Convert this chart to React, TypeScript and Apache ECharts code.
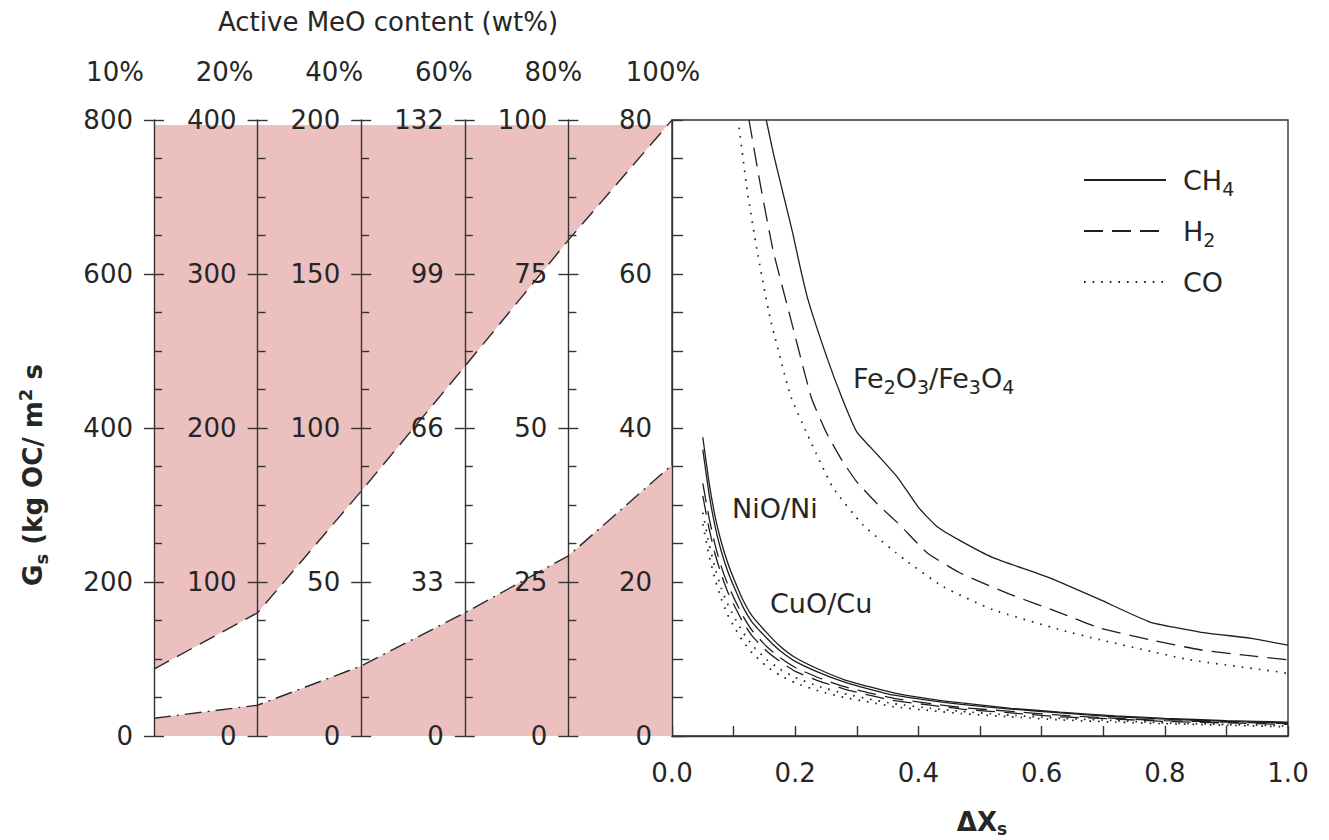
import React, { useEffect, useRef } from 'react';
import * as echarts from 'echarts';

// ---------------- DATA ----------------
const contentLabels = ['10%', '20%', '40%', '60%', '80%', '100%'];
// G_s scale maximum on each nomograph axis (kg OC / m2 s)
const nomoAxisMax = [800, 400, 200, 132, 100, 80];
// boundary lines, expressed on the 10% scale (0-800), one value per nomograph axis
const upperBoundary = [87, 160, 318, 480, 644, 800];
const lowerBoundary = [23, 40, 91, 160, 234, 352];

const xTicks = [0, 0.2, 0.4, 0.6, 0.8, 1.0];

// Fe2O3/Fe3O4 curves [dXs, Gs]
const feCH4 = [[0.153, 80], [0.165, 75.5], [0.183, 69.6], [0.196, 65.3], [0.208, 60.9], [0.221, 56.6], [0.25, 49.5], [0.276, 43.9], [0.3, 39.5], [0.335, 36.4], [0.367, 33.5], [0.4, 29.7], [0.43, 27.2], [0.467, 25.4], [0.52, 23.2], [0.614, 20.5], [0.695, 17.7], [0.776, 14.8], [0.857, 13.5], [0.938, 12.7], [1.0, 11.8]];
const feH2 = [[0.125, 80], [0.143, 71.8], [0.164, 63.1], [0.192, 54.4], [0.226, 44], [0.25, 39.5], [0.276, 35.8], [0.3, 33], [0.335, 30], [0.37, 27.4], [0.414, 23.8], [0.467, 21.2], [0.549, 18.4], [0.63, 16], [0.695, 14], [0.776, 12.5], [0.857, 11.2], [0.93, 10.5], [1.0, 9.9]];
const feCO = [[0.109, 79], [0.122, 70.9], [0.138, 63.1], [0.159, 54.4], [0.192, 44.3], [0.219, 39.3], [0.261, 32.3], [0.31, 27.4], [0.378, 22.9], [0.44, 19.4], [0.521, 16.4], [0.63, 13.8], [0.695, 12.5], [0.84, 9.9], [0.987, 8.3], [1.0, 8.1]];
// NiO/Ni and CuO/Cu curves
const niCH4 = [[0.05, 38.8], [0.06, 33], [0.07, 28.5], [0.08, 25.2], [0.09, 22.6], [0.1, 20.5], [0.115, 17.7], [0.13, 15.6], [0.154, 13.4], [0.175, 11.7], [0.2, 10.2], [0.24, 8.6], [0.28, 7.3], [0.32, 6.4], [0.36, 5.6], [0.42, 4.8], [0.47, 4.3], [0.55, 3.6], [0.63, 3.1], [0.72, 2.6], [0.8, 2.3], [0.9, 2.0], [1.0, 1.8]];
const cuCH4 = [[0.05, 37.2], [0.06, 31.5], [0.07, 27.2], [0.08, 24], [0.09, 21.5], [0.1, 19.5], [0.115, 16.8], [0.13, 14.8], [0.154, 12.7], [0.175, 11.1], [0.2, 9.7], [0.24, 8.2], [0.28, 7.0], [0.32, 6.1], [0.36, 5.3], [0.42, 4.6], [0.47, 4.1], [0.55, 3.5], [0.63, 3.0], [0.72, 2.5], [0.8, 2.2], [0.9, 1.9], [1.0, 1.7]];
const niH2 = [[0.05, 32.8], [0.06, 28.4], [0.07, 24.8], [0.08, 22], [0.09, 19.8], [0.1, 18], [0.115, 15.6], [0.13, 13.7], [0.154, 11.6], [0.175, 10.2], [0.2, 8.9], [0.24, 7.5], [0.28, 6.4], [0.32, 5.6], [0.36, 4.9], [0.42, 4.2], [0.47, 3.7], [0.55, 3.2], [0.63, 2.7], [0.72, 2.3], [0.8, 2.0], [0.9, 1.8], [1.0, 1.6]];
const cuH2 = [[0.05, 31.2], [0.06, 27], [0.07, 23.6], [0.08, 21], [0.09, 18.8], [0.1, 17.1], [0.115, 14.8], [0.13, 13], [0.154, 11], [0.175, 9.7], [0.2, 8.4], [0.24, 7.1], [0.28, 6.1], [0.32, 5.3], [0.36, 4.6], [0.42, 4.0], [0.47, 3.5], [0.55, 3.0], [0.63, 2.5], [0.72, 2.2], [0.8, 1.9], [0.9, 1.7], [1.0, 1.5]];
const niCO = [[0.05, 29], [0.06, 25], [0.07, 21.8], [0.08, 19.2], [0.09, 17.2], [0.1, 15.6], [0.115, 13.5], [0.13, 11.8], [0.154, 9.9], [0.175, 8.7], [0.2, 7.6], [0.24, 6.4], [0.28, 5.5], [0.32, 4.8], [0.36, 4.2], [0.42, 3.6], [0.47, 3.2], [0.55, 2.7], [0.63, 2.3], [0.72, 2.0], [0.8, 1.7], [0.9, 1.5], [1.0, 1.3]];
const cuCO = [[0.05, 27.5], [0.06, 23.5], [0.07, 20.3], [0.08, 17.8], [0.09, 15.8], [0.1, 14.3], [0.115, 12.3], [0.13, 10.8], [0.154, 9.0], [0.175, 7.9], [0.2, 6.9], [0.24, 5.8], [0.28, 5.0], [0.32, 4.4], [0.36, 3.8], [0.42, 3.3], [0.47, 2.9], [0.55, 2.5], [0.63, 2.1], [0.72, 1.8], [0.8, 1.6], [0.9, 1.4], [1.0, 1.2]];

// ---------------- LAYOUT / STYLE ----------------
const W = 1329;
const H = 840;
const LEFT_X = 154;
const PLOT_X0 = 672;
const PLOT_X1 = 1288;
const TOP = 120;
const BOTTOM = 736;
const PINK_TOP_Y = 125;
const COL_W = (PLOT_X0 - LEFT_X) / 5;
const FONT = '"DejaVu Sans", Verdana, sans-serif';
const TXT = '#262626';
const AX = '#333333';
const PINK = '#edc0c0';
const FS = 26;
const FS_NOTE = 27;

const SOLID = 'solid';
const DASH = [19, 9];
const DOT = [1.6, 7];

export default function App() {
  const ref = useRef<HTMLDivElement>(null);

  useEffect(() => {
    if (!ref.current) return;
    const chart = echarts.init(ref.current, undefined, { renderer: 'svg' });

    const leftMax = nomoAxisMax[0] * (BOTTOM - PINK_TOP_Y) / (BOTTOM - TOP);

    const grids: any[] = [
      { left: LEFT_X, top: PINK_TOP_Y, width: PLOT_X0 - LEFT_X, height: BOTTOM - PINK_TOP_Y },
    ];
    const xAxes: any[] = [
      { gridIndex: 0, type: 'value', min: 0, max: 5, show: false },
    ];
    const yAxes: any[] = [
      { gridIndex: 0, type: 'value', min: 0, max: leftMax, show: false },
    ];

    for (let i = 0; i < 5; i++) {
      const gi = grids.length;
      grids.push({ left: LEFT_X + i * COL_W, top: TOP, width: 30, height: BOTTOM - TOP });
      xAxes.push({ gridIndex: gi, type: 'value', min: 0, max: 1, show: false });
      const m = nomoAxisMax[i];
      yAxes.push({
        gridIndex: gi, type: 'value', position: 'left', min: 0, max: m, interval: m / 4, z: 10,
        axisLine: { show: true, lineStyle: { color: AX, width: 1.4 } },
        axisTick: { show: true, inside: true, length: 10, lineStyle: { color: AX, width: 1.4 } },
        minorTick: { show: true, splitNumber: 4, length: 8, lineStyle: { color: AX, width: 1.4 } },
        axisLabel: { show: true, margin: 21, fontSize: FS, fontFamily: FONT, color: TXT },
        splitLine: { show: false },
        minorSplitLine: { show: false },
      });
      yAxes.push({
        gridIndex: gi, type: 'value', position: 'left', min: 0, max: m, interval: m / 4, z: 10,
        axisLine: { show: false },
        axisTick: { show: true, inside: false, length: 10, lineStyle: { color: AX, width: 1.4 } },
        axisLabel: { show: false },
        splitLine: { show: false },
      });
    }

    const rg = grids.length;
    grids.push({
      left: PLOT_X0, top: TOP, width: PLOT_X1 - PLOT_X0, height: BOTTOM - TOP,
      show: true, borderColor: AX, borderWidth: 1.4, backgroundColor: 'transparent',
    });
    const rx = xAxes.length;
    xAxes.push({
      gridIndex: rg, type: 'value', min: xTicks[0], max: xTicks[xTicks.length - 1], interval: 0.2,
      axisLine: { show: true, onZero: false, lineStyle: { color: AX, width: 1.4 } },
      axisTick: { show: true, inside: true, length: 10, lineStyle: { color: AX, width: 1.4 } },
      minorTick: { show: true, splitNumber: 2, length: 10, lineStyle: { color: AX, width: 1.4 } },
      axisLabel: { margin: 24, fontSize: FS, fontFamily: FONT, color: TXT, formatter: (v: number) => v.toFixed(1) },
      splitLine: { show: false },
    });
    const ry = yAxes.length;
    yAxes.push({
      gridIndex: rg, type: 'value', min: 0, max: nomoAxisMax[5], interval: nomoAxisMax[5] / 4, z: 10,
      axisLine: { show: true, onZero: false, lineStyle: { color: AX, width: 1.4 } },
      axisTick: { show: true, inside: true, length: 11, lineStyle: { color: AX, width: 1.4 } },
      minorTick: { show: true, splitNumber: 4, length: 11, lineStyle: { color: AX, width: 1.4 } },
      axisLabel: { margin: 20, fontSize: FS, fontFamily: FONT, color: TXT },
      splitLine: { show: false },
    });

    const curve = (name: string, data: number[][], type: any, width = 1.3) => ({
      name, type: 'line', xAxisIndex: rx, yAxisIndex: ry, data, symbol: 'none', smooth: 0.15,
      itemStyle: { color: 'rgba(0,0,0,0)' },
      lineStyle: { color: '#1e1e1e', width, type }, z: 4,
    });

    const series: any[] = [
      {
        name: 'upperFill', type: 'line', xAxisIndex: 0, yAxisIndex: 0, symbol: 'none',
        data: upperBoundary.map((v, i) => [i, v]),
        lineStyle: { width: 0 }, areaStyle: { color: PINK, opacity: 1, origin: 'end' }, z: 1,
      },
      {
        name: 'lowerFill', type: 'line', xAxisIndex: 0, yAxisIndex: 0, symbol: 'none',
        data: lowerBoundary.map((v, i) => [i, v]),
        lineStyle: { width: 0 }, areaStyle: { color: PINK, opacity: 1, origin: 'start' }, z: 1,
      },
      {
        name: 'upperLine', type: 'line', xAxisIndex: 0, yAxisIndex: 0, symbol: 'none', clip: false,
        data: upperBoundary.map((v, i) => [i, v]),
        lineStyle: { color: '#2a2a2a', width: 1.4, type: [17, 9] }, z: 5,
      },
      {
        name: 'lowerLine', type: 'line', xAxisIndex: 0, yAxisIndex: 0, symbol: 'none', clip: false,
        data: lowerBoundary.map((v, i) => [i, v]),
        lineStyle: { color: '#2a2a2a', width: 1.4, type: [17, 6, 2, 6] }, z: 5,
      },
      curve('CH4', feCH4, SOLID),
      curve('H2', feH2, DASH),
      curve('CO', feCO, DOT, 1.7),
      curve('CH4', niCH4, SOLID),
      curve('CH4', cuCH4, SOLID),
      curve('H2', niH2, DASH),
      curve('H2', cuH2, DASH),
      curve('CO', niCO, DOT, 1.7),
      curve('CO', cuCO, DOT, 1.7),
    ];

    const subRich = { fontSize: 18, fontFamily: FONT, fill: TXT, color: TXT, verticalAlign: 'bottom', lineHeight: 18 };
    const supRich = { fontSize: 18, fontFamily: FONT, fill: TXT, color: TXT, verticalAlign: 'top', lineHeight: 18 };

    const graphic: any[] = [
      {
        type: 'text', x: 388, y: 22, z: 20,
        style: { text: 'Active MeO content (wt%)', fontSize: FS, fontFamily: FONT, fill: TXT, align: 'center', verticalAlign: 'middle' },
      },
      ...contentLabels.map((t, i) => ({
        type: 'text', x: 115 + i * 109.6, y: 72, z: 20,
        style: { text: t, fontSize: FS, fontFamily: FONT, fill: TXT, align: 'center', verticalAlign: 'middle' },
      })),
      {
        type: 'text', x: 33, y: 475, rotation: Math.PI / 2, z: 20,
        style: {
          text: 'G{sub|s} (kg OC/ m{sup|2} s', fontSize: FS, fontWeight: 'bold', fontFamily: FONT, fill: TXT,
          align: 'center', verticalAlign: 'middle', lineHeight: 34,
          rich: { sub: { ...subRich, fontWeight: 'bold' }, sup: { ...supRich, fontWeight: 'bold' } },
        },
      },
      {
        type: 'text', x: 982, y: 822, z: 20,
        style: {
          text: 'ΔX{sub|s}', fontSize: FS, fontWeight: 'bold', fontFamily: FONT, fill: TXT,
          align: 'center', verticalAlign: 'middle', lineHeight: 30,
          rich: { sub: { ...subRich, fontSize: 17, lineHeight: 17, fontWeight: 'bold' } },
        },
      },
      {
        type: 'text', x: 853, y: 378, z: 20,
        style: {
          text: 'Fe{sub|2}O{sub|3}/Fe{sub|3}O{sub|4}', fontSize: FS_NOTE, fontFamily: FONT, fill: TXT,
          align: 'left', verticalAlign: 'middle', lineHeight: 36, rich: { sub: { ...subRich, fontSize: 19, lineHeight: 19 } },
        },
      },
      {
        type: 'text', x: 732, y: 508, z: 20,
        style: { text: 'NiO/Ni', fontSize: FS_NOTE, fontFamily: FONT, fill: TXT, align: 'left', verticalAlign: 'middle' },
      },
      {
        type: 'text', x: 770, y: 603, z: 20,
        style: { text: 'CuO/Cu', fontSize: FS_NOTE, fontFamily: FONT, fill: TXT, align: 'left', verticalAlign: 'middle' },
      },
    ];

    chart.setOption({
      animation: false,
      backgroundColor: '#ffffff',
      grid: grids,
      xAxis: xAxes,
      yAxis: yAxes,
      series,
      graphic,
      legend: {
        data: ['CH4', 'H2', 'CO'],
        orient: 'vertical', left: 1078, top: 157, itemWidth: 82, itemHeight: 14, itemGap: 15,
        selectedMode: false,
        itemStyle: { color: 'rgba(0,0,0,0)', borderWidth: 0 },
        formatter: (n: string) => (n === 'CH4' ? 'CH{sub|4}' : n === 'H2' ? 'H{sub|2}' : 'CO'),
        textStyle: {
          fontSize: FS_NOTE, fontFamily: FONT, color: TXT, lineHeight: 36, padding: [0, 0, 0, 12],
          rich: { sub: { fontSize: 19, fontFamily: FONT, color: TXT, verticalAlign: 'bottom', lineHeight: 19 } },
        },
      },
    });

    return () => chart.dispose();
  }, []);

  return <div ref={ref} style={{ position: 'fixed', left: 0, top: 0, width: W, height: H }} />;
}
